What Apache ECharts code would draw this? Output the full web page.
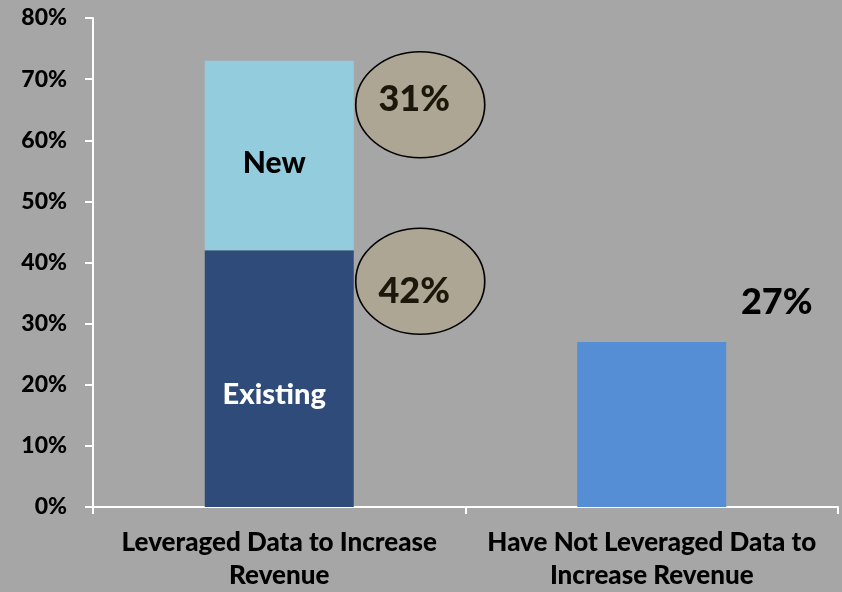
<!DOCTYPE html>
<html>
<head>
<meta charset="utf-8">
<script src="https://cdn.jsdelivr.net/npm/echarts@6/dist/echarts.min.js"></script>
<style>
  html, body { margin: 0; padding: 0; background: #a6a6a6; }
  #chart { width: 842px; height: 592px; }
</style>
</head>
<body>
<div id="chart"></div>
<script>
// Share of respondents, in percent
const categories = ['Leveraged Data to Increase\nRevenue', 'Have Not Leveraged Data to\nIncrease Revenue'];
const existingValues = [42, '-'];
const newValues = [31, '-'];
const notLeveragedValues = ['-', 27];
const segmentNames = ['Existing', 'New', 'Not leveraged'];
const yMin = 0, yMax = 80, yStep = 10;

const FONT = 'Lato, "Open Sans", sans-serif';
const WEIGHT = 900;
const stackTop = existingValues[0] + newValues[0];

// Tan ellipse call-outs sitting to the right of the stacked bar
function calloutPoint(coordValue, shown, offset, textOffset) {
  return {
    symbol: 'circle',
    symbolSize: [129, 106],
    itemStyle: { color: '#aea694', borderColor: '#000', borderWidth: 1.5 },
    label: {
      show: true, position: 'inside', formatter: '{c}%',
      color: '#1b170b', fontFamily: FONT, fontWeight: WEIGHT, fontSize: 36,
      offset: textOffset
    },
    data: [{ coord: [0, coordValue], value: shown, symbolOffset: offset }]
  };
}

const chart = echarts.init(document.getElementById('chart'));
chart.setOption({
  backgroundColor: '#a6a6a6',
  animation: false,
  grid: { left: 93, right: 4, top: 18, bottom: 83, containLabel: false },
  xAxis: {
    type: 'category',
    data: categories,
    axisLine: { lineStyle: { color: '#ffffff', width: 2 } },
    axisTick: { show: true, length: 7, lineStyle: { color: '#ffffff', width: 2 } },
    axisLabel: {
      interval: 0,
      color: '#000', fontFamily: FONT, fontWeight: WEIGHT, fontSize: 26,
      lineHeight: 33, margin: 19
    }
  },
  yAxis: {
    type: 'value',
    min: yMin, max: yMax, interval: yStep,
    splitLine: { show: false },
    axisLine: { show: true, lineStyle: { color: '#ffffff', width: 2 } },
    axisTick: { show: true, length: 8, lineStyle: { color: '#ffffff', width: 2 } },
    axisLabel: {
      formatter: '{value}%', color: '#000', fontFamily: FONT, fontWeight: WEIGHT,
      fontSize: 23, margin: 26
    }
  },
  series: [
    {
      name: segmentNames[0], type: 'bar', stack: 'total', barWidth: '40%',
      data: existingValues,
      itemStyle: { color: '#2f4b79' },
      label: {
        show: true, position: 'inside', formatter: segmentNames[0],
        color: '#ffffff', fontFamily: FONT, fontWeight: WEIGHT, fontSize: 29,
        offset: [-5, 16]
      },
      markPoint: calloutPoint(existingValues[0], existingValues[0], [141, 31], [-6, 10])
    },
    {
      name: segmentNames[1], type: 'bar', stack: 'total', barWidth: '40%',
      data: newValues,
      itemStyle: { color: '#93cddd' },
      label: {
        show: true, position: 'inside', formatter: segmentNames[1],
        color: '#000', fontFamily: FONT, fontWeight: WEIGHT, fontSize: 30,
        offset: [-5, 8]
      },
      markPoint: calloutPoint(stackTop, newValues[0], [141, 44], [-6, -5])
    },
    {
      name: segmentNames[2], type: 'bar', stack: 'total', barWidth: '40%',
      data: notLeveragedValues,
      itemStyle: { color: '#558ed5' },
      label: {
        show: true, position: 'top', distance: 22, formatter: '{c}%',
        color: '#000', fontFamily: FONT, fontWeight: WEIGHT, fontSize: 36,
        offset: [125, 0]
      }
    }
  ]
});
</script>
</body>
</html>
